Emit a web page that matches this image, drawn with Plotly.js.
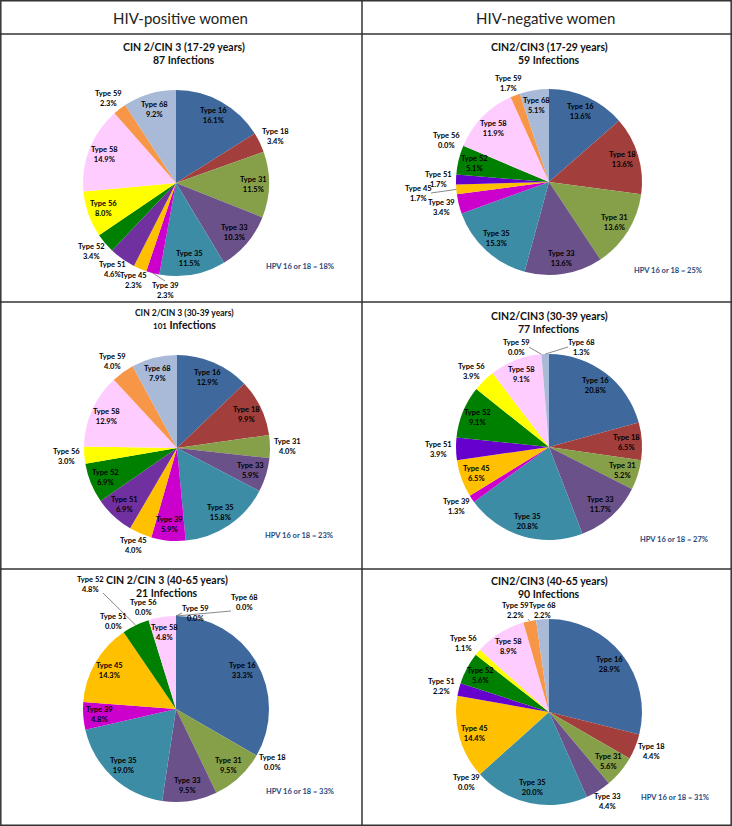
<!DOCTYPE html>
<html>
<head>
<meta charset="utf-8">
<script src="https://cdn.plot.ly/plotly-3.0.1.min.js"></script>
<style>html,body{margin:0;padding:0;background:#fff;}#chart{width:732px;height:826px;}</style>
</head>
<body>
<div id="chart"></div>
<script>
// ---- Data ----
const types = ["Type 16","Type 18","Type 31","Type 33","Type 35","Type 39","Type 45","Type 51","Type 52","Type 56","Type 58","Type 59","Type 68"];
// infection counts per HPV type
const posYoung = [14,3,10,9,10,2,2,4,3,7,13,2,8];      // 87
const negYoung = [8,8,8,8,9,2,1,1,3,0,7,1,3];          // 59
const posMid   = [13,10,4,6,16,6,4,7,7,3,13,4,8];      // 101
const negMid   = [16,5,4,9,16,1,5,3,7,3,7,0,1];        // 77
const posOld   = [7,0,2,2,4,1,3,0,1,0,1,0,0];          // 21
const negOld   = [26,4,5,4,18,0,13,2,5,1,8,2,2];       // 90
const headers = ["HIV-positive women","HIV-negative women"];
const titleLine1 = ["CIN 2/CIN 3 (17-29 years)","CIN2/CIN3 (17-29 years)","CIN 2/CIN 3 (30-39 years)","CIN2/CIN3 (30-39 years)","CIN 2/CIN 3 (40-65 years)","CIN2/CIN3 (40-65 years)"];
const titleLine2 = ["87 Infections","59 Infections","<span style='font-size:8px'>101</span> Infections","77 Infections","21 Infections","90 Infections"];
const hpvNotes = ["HPV 16 or 18 = 18%","HPV 16 or 18 = 25%","HPV 16 or 18 = 23%","HPV 16 or 18 = 27%","HPV 16 or 18 = 33%","HPV 16 or 18 = 31%"];
const colorsPos = ["#3F699D","#A23F3D","#86A04A","#6A5189","#3D8CA6","#CC00CC","#FFC000","#7030A0","#008000","#FFFF00","#FFCCFF","#F79646","#A9BAD9"];
const colorsNeg = ["#3F699D","#A23F3D","#86A04A","#6A5189","#3D8CA6","#CC00CC","#FFC000","#6600CC","#008000","#FFFF00","#FFCCFF","#F79646","#A9BAD9"];

// ---- Layout / styling ----
const W = 732, H = 826;
const series = [posYoung, negYoung, posMid, negMid, posOld, negOld];
const centers = [[176,183],[549,182],[177,448],[549,447],[176,709],[549,712]];
const R = 93;
const title1Y = [47,47,313,316,580,581];
const title2Y = [60,60,325,329,593,594];
const title1Size = [10.5,10.5,8.5,10.5,10.5,10.5];
const titleX = [184,549,184,549,167,549];
const noteXY = [[300,266],[668,270],[299,535],[674,539],[300,791],[675,797]];
// label placement per slice: i = inside, o = outside
const placement = [
  "ioiiiooooiioi",
  "iiiiioooioioi",
  "iioiiioiioioi",
  "iiiiioioioioo",
  "ioiiiiioooioo",
  "ioioioioioioo"
];
// crowded outside labels moved aside (offset of label centre from pie centre, px); third item = draw leader line
const moved = {
  0: {5: [-11, 107, 1]},
  1: {6: [-131, 11, 1]},
  3: {11: [-33, -100, 1], 12: [32, -100, 1]},
  4: {8: [-86, -125, 1], 11: [19, -96, 1], 12: [68, -107, 1]},
  5: {11: [-34, -102, 1], 12: [-7, -102, 0]}
};
const font = "Lato, 'Open Sans', sans-serif";
const px = x => x / W, py = y => 1 - y / H;

const traces = series.map((vals, i) => {
  const [cx, cy] = centers[i];
  return {
    type: "pie", labels: types, values: vals, sort: false,
    direction: "clockwise", rotation: 0,
    marker: {colors: (i % 2 === 0 ? colorsPos : colorsNeg), line: {width: 0}},
    textinfo: "none", hoverinfo: "label+percent", showlegend: false,
    domain: {x: [px(cx - R), px(cx + R)], y: [py(cy + R), py(cy - R)]}
  };
});

const annotations = [];
const shapes = [];
const lblFont = {family: font, size: 7.5, color: "#000", weight: "bold"};

series.forEach((vals, p) => {
  const [cx, cy] = centers[p];
  const total = vals.reduce((a, b) => a + b, 0);
  let cum = 0;
  vals.forEach((v, k) => {
    const th = 2 * Math.PI * (cum + v / 2) / total;
    cum += v;
    const s = Math.sin(th), c = Math.cos(th);
    let lx, ly;
    if (placement[p][k] === "i") {
      lx = cx + 0.83 * R * s; ly = cy - 0.83 * R * c;
    } else {
      lx = cx + (R + 4) * s + 14 * s; ly = cy - (R + 4) * c - 9 * c;
    }
    const mv = moved[p] && moved[p][k];
    if (mv) {
      lx = cx + mv[0]; ly = cy + mv[1];
      if (mv[2]) {
        const ex = cx + R * s, ey = cy - R * c;
        const tx = lx + (ex > lx + 13 ? 13 : (ex < lx - 13 ? -13 : 0));
        const ty = ly + (ey > ly + 9 ? 9 : (ey < ly - 9 ? -9 : 0));
        shapes.push({type: "line", xref: "paper", yref: "paper", x0: px(ex), y0: py(ey), x1: px(tx), y1: py(ty),
          line: {color: "#555", width: 0.7}});
      }
    }
    const pct = (100 * v / total).toFixed(1) + "%";
    annotations.push({text: types[k] + "<br>" + pct, x: px(lx), y: py(ly), xref: "paper", yref: "paper",
      xanchor: "center", yanchor: "middle", showarrow: false, font: lblFont});
  });
});

headers.forEach((h, i) => {
  annotations.push({text: h, x: px(i === 0 ? 180 : 545), y: py(18), xref: "paper", yref: "paper",
    xanchor: "center", yanchor: "middle", showarrow: false, font: {family: font, size: 15, color: "#222"}});
});
titleLine1.forEach((t, i) => {
  annotations.push({text: t, x: px(titleX[i]), y: py(title1Y[i]), xref: "paper", yref: "paper",
    xanchor: "center", yanchor: "middle", showarrow: false, font: {family: font, size: title1Size[i], color: "#111", weight: "bold"}});
  annotations.push({text: titleLine2[i], x: px(titleX[i]), y: py(title2Y[i]), xref: "paper", yref: "paper",
    xanchor: "center", yanchor: "middle", showarrow: false, font: {family: font, size: 10.5, color: "#111", weight: "bold"}});
});
hpvNotes.forEach((t, i) => {
  annotations.push({text: t, x: px(noteXY[i][0]), y: py(noteXY[i][1]), xref: "paper", yref: "paper",
    xanchor: "center", yanchor: "middle", showarrow: false, font: {family: font, size: 7.5, color: "#1F497D", weight: "bold"}});
});

const lineStyle = {color: "#333", width: 1.5};
shapes.push(
  {type: "rect", xref: "paper", yref: "paper", x0: px(0.8), x1: px(731.2), y0: py(825.2), y1: py(0.8), line: lineStyle},
  {type: "line", xref: "paper", yref: "paper", x0: px(362), x1: px(362), y0: py(825), y1: py(0), line: lineStyle},
  {type: "line", xref: "paper", yref: "paper", x0: px(0), x1: px(732), y0: py(34), y1: py(34), line: lineStyle},
  {type: "line", xref: "paper", yref: "paper", x0: px(0), x1: px(732), y0: py(302), y1: py(302), line: lineStyle},
  {type: "line", xref: "paper", yref: "paper", x0: px(0), x1: px(732), y0: py(569), y1: py(569), line: lineStyle}
);

Plotly.newPlot("chart", traces, {
  width: W, height: H,
  margin: {l: 0, r: 0, t: 0, b: 0},
  paper_bgcolor: "#fff",
  annotations, shapes,
  font: {family: font}
}, {displayModeBar: false, staticPlot: true});
</script>
</body>
</html>
